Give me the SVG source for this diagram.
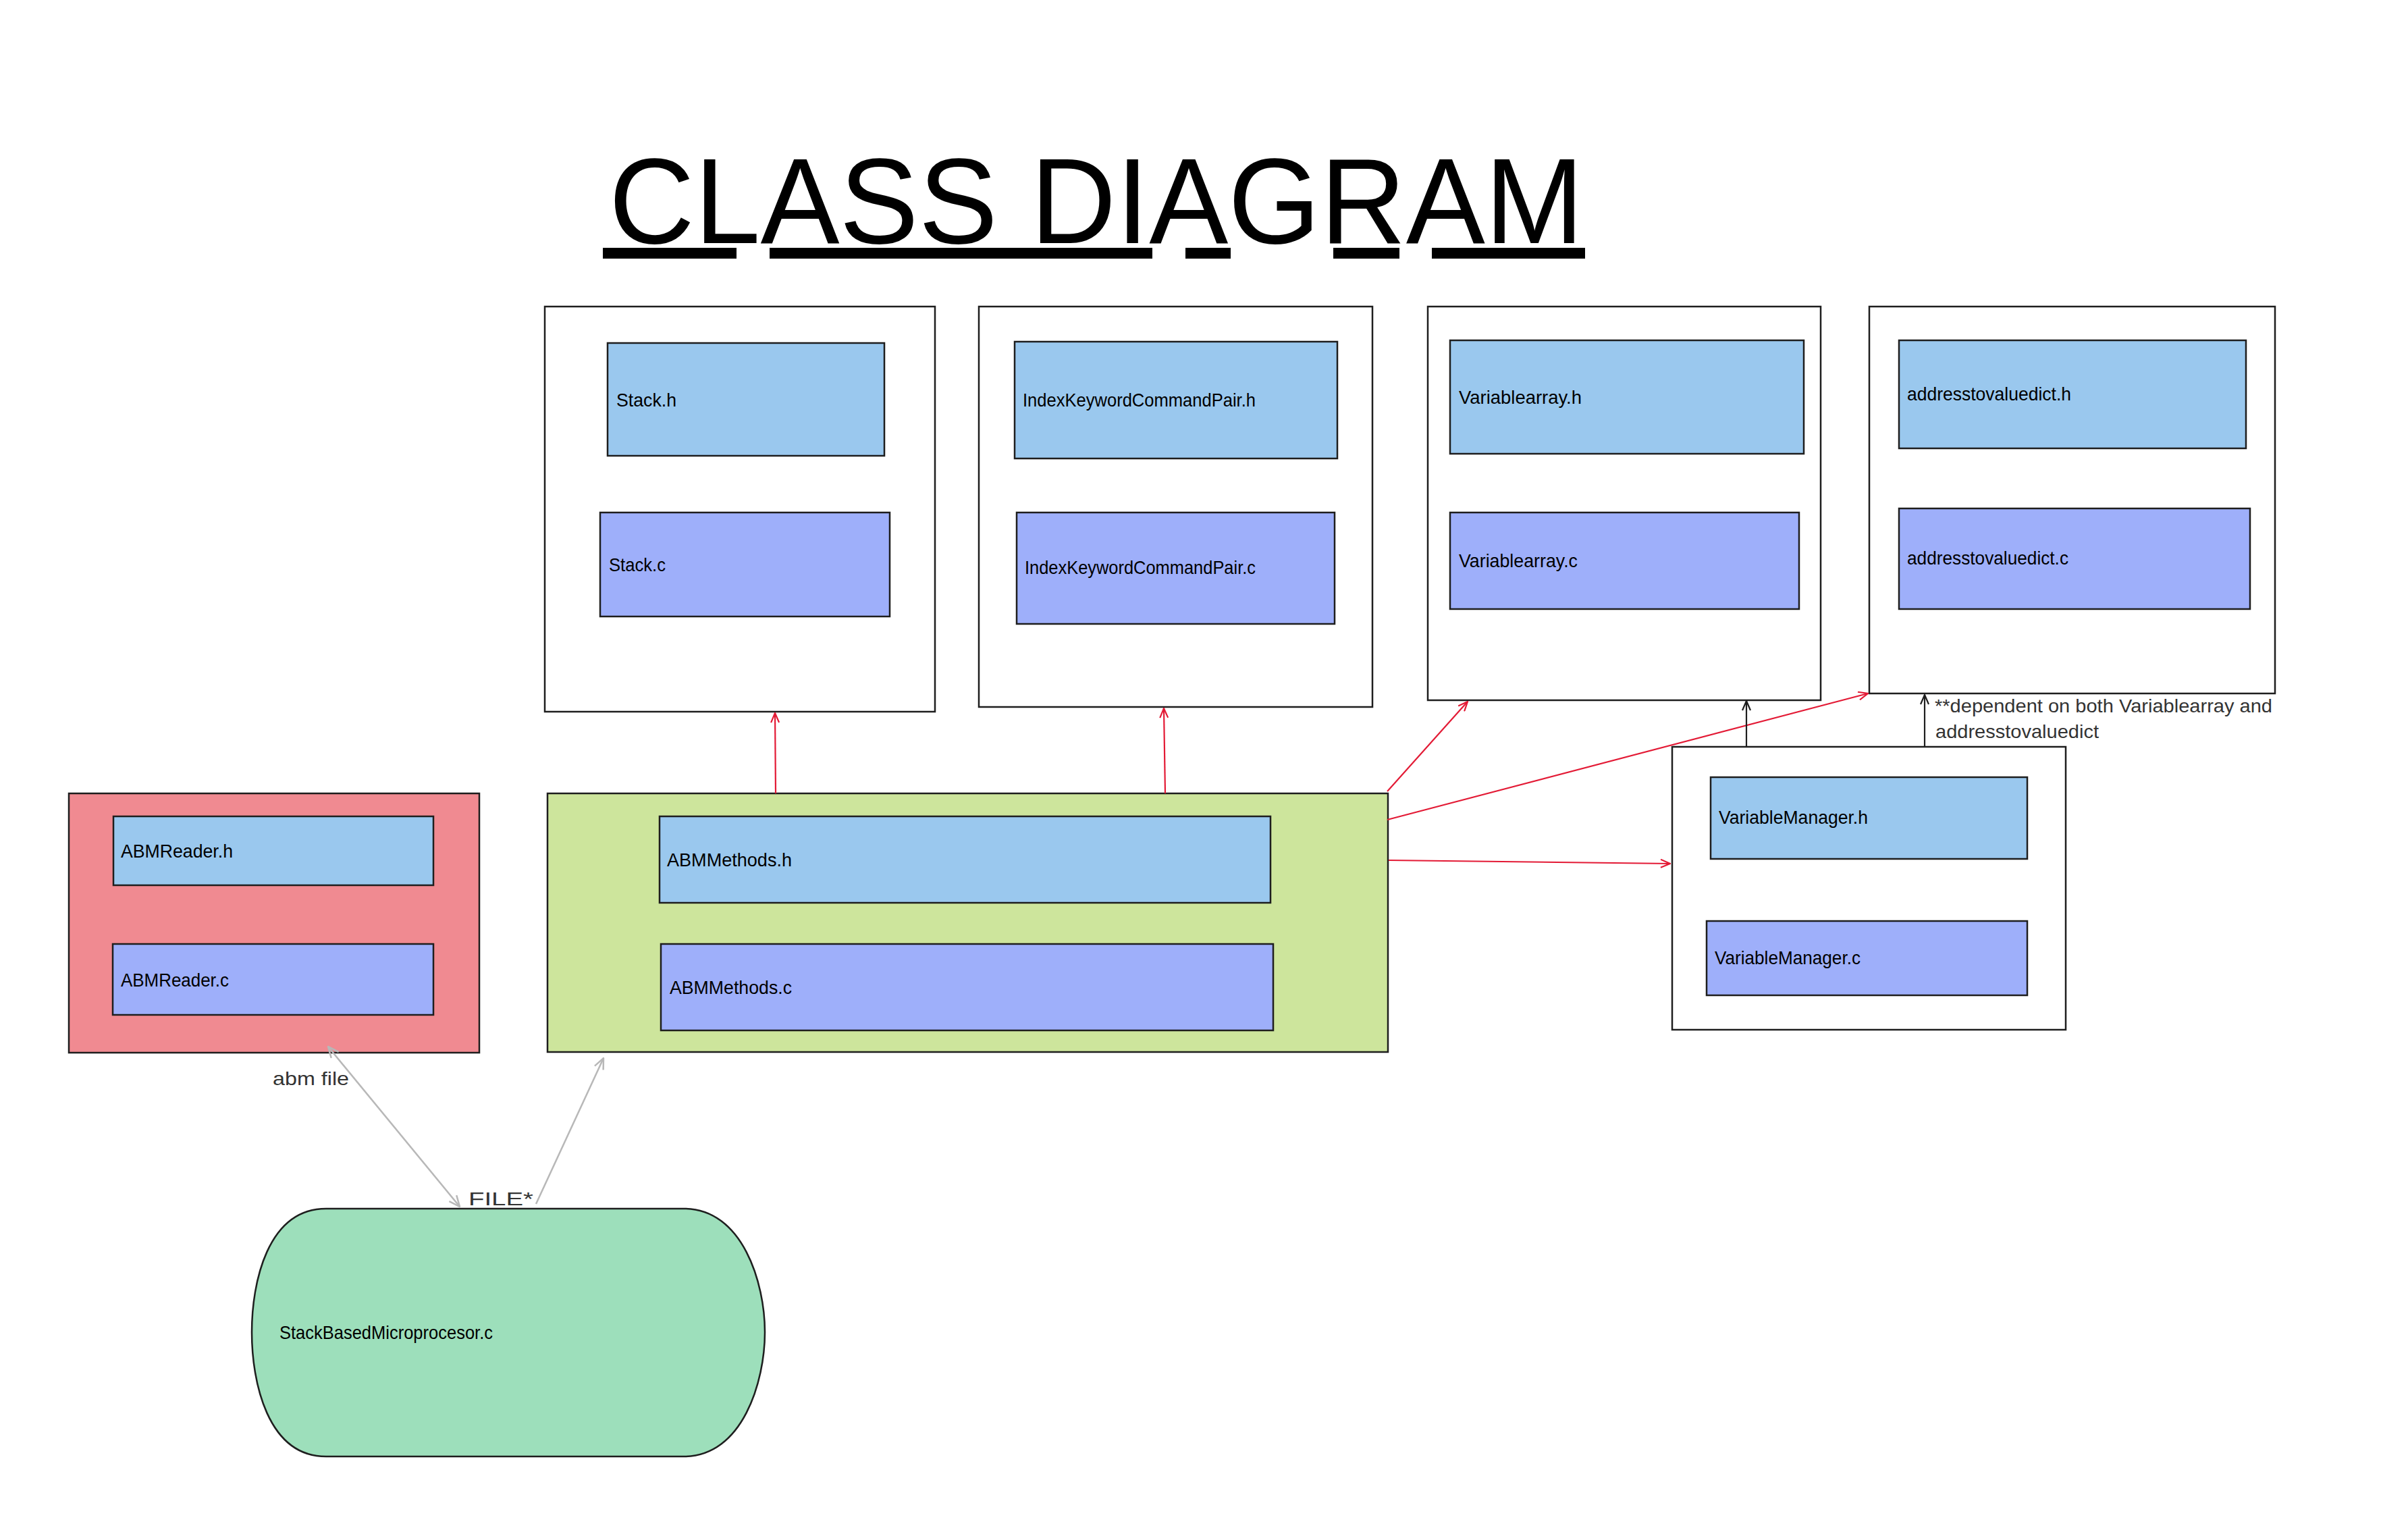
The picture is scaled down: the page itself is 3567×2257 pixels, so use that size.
<svg xmlns="http://www.w3.org/2000/svg" width="3567" height="2257" viewBox="0 0 3567 2257">
<style>
.bg{fill:#ffffff}
.outer{fill:#ffffff;stroke:#1e1e1e;stroke-width:2.5}
.hf{fill:#9ac8ee;stroke:#1e1e1e;stroke-width:2.5}
.cf{fill:#9eaffa;stroke:#1e1e1e;stroke-width:2.5}
.lbl{font-family:"Liberation Sans Narrow","Liberation Sans","DejaVu Sans Condensed",sans-serif;font-size:28px;fill:#000000}
.note{font-family:"Liberation Sans Narrow","Liberation Sans",sans-serif;font-size:28px;fill:#333333}
.red{stroke:#e31a35;stroke-width:2.2;fill:none}
.blk{stroke:#1e1e1e;stroke-width:2.2;fill:none}
.gry{stroke:#b8b8b8;stroke-width:2.5;fill:none}
</style>
<defs>
<marker id="mr" viewBox="0 0 16 14" refX="15" refY="7" markerWidth="16" markerHeight="14" markerUnits="userSpaceOnUse" orient="auto-start-reverse"><path d="M1,1 L15,7 L1,13" fill="none" stroke="#e31a35" stroke-width="2.2"/></marker>
<marker id="mb" viewBox="0 0 16 14" refX="15" refY="7" markerWidth="16" markerHeight="14" markerUnits="userSpaceOnUse" orient="auto-start-reverse"><path d="M1,1 L15,7 L1,13" fill="none" stroke="#1e1e1e" stroke-width="2.2"/></marker>
<marker id="mg" viewBox="0 0 18 16" refX="17" refY="8" markerWidth="18" markerHeight="16" markerUnits="userSpaceOnUse" orient="auto-start-reverse"><path d="M1,1 L17,8 L1,15" fill="none" stroke="#b8b8b8" stroke-width="2.5"/></marker>
</defs>
<rect class="bg" x="0" y="0" width="3567" height="2257"/>

<g id="title">
<text x="902" y="360" font-family="'Liberation Sans Narrow','Liberation Sans',sans-serif" font-size="180" fill="#000" textLength="1444" lengthAdjust="spacingAndGlyphs">CLASS DIAGRAM</text>
<rect x="893" y="367" width="198" height="16" fill="#000"/>
<rect x="1140" y="367" width="567" height="16" fill="#000"/>
<rect x="1756" y="367" width="67" height="16" fill="#000"/>
<rect x="1975" y="367" width="98" height="16" fill="#000"/>
<rect x="2121" y="367" width="227" height="16" fill="#000"/>
</g>

<g id="stack">
<rect class="outer" x="807" y="454" width="578" height="600"/>
<rect class="hf" x="900" y="508" width="410" height="167"/>
<text class="lbl" x="913" y="602" textLength="89" lengthAdjust="spacingAndGlyphs">Stack.h</text>
<rect class="cf" x="889" y="759" width="429" height="154"/>
<text class="lbl" x="902" y="846" textLength="84" lengthAdjust="spacingAndGlyphs">Stack.c</text>
</g>

<g id="ikcp">
<rect class="outer" x="1450" y="454" width="583" height="593"/>
<rect class="hf" x="1503" y="506" width="478" height="173"/>
<text class="lbl" x="1515" y="602" textLength="345" lengthAdjust="spacingAndGlyphs">IndexKeywordCommandPair.h</text>
<rect class="cf" x="1506" y="759" width="471" height="165"/>
<text class="lbl" x="1518" y="850" textLength="342" lengthAdjust="spacingAndGlyphs">IndexKeywordCommandPair.c</text>
</g>

<g id="variablearray">
<rect class="outer" x="2115" y="454" width="582" height="583"/>
<rect class="hf" x="2148" y="504" width="524" height="168"/>
<text class="lbl" x="2161" y="598" textLength="182" lengthAdjust="spacingAndGlyphs">Variablearray.h</text>
<rect class="cf" x="2148" y="759" width="517" height="143"/>
<text class="lbl" x="2161" y="840" textLength="176" lengthAdjust="spacingAndGlyphs">Variablearray.c</text>
</g>

<g id="addresstovaluedict">
<rect class="outer" x="2769" y="454" width="601" height="573"/>
<rect class="hf" x="2813" y="504" width="514" height="160"/>
<text class="lbl" x="2825" y="593" textLength="243" lengthAdjust="spacingAndGlyphs">addresstovaluedict.h</text>
<rect class="cf" x="2813" y="753" width="520" height="149"/>
<text class="lbl" x="2825" y="836" textLength="239" lengthAdjust="spacingAndGlyphs">addresstovaluedict.c</text>
</g>

<g id="abmreader">
<rect x="102" y="1175" width="608" height="384" fill="#f08a91" stroke="#1e1e1e" stroke-width="2.5"/>
<rect class="hf" x="168" y="1209" width="474" height="102"/>
<text class="lbl" x="179" y="1270" textLength="166" lengthAdjust="spacingAndGlyphs">ABMReader.h</text>
<rect class="cf" x="167" y="1398" width="475" height="105"/>
<text class="lbl" x="179" y="1461" textLength="160" lengthAdjust="spacingAndGlyphs">ABMReader.c</text>
</g>

<g id="abmmethods">
<rect x="811" y="1175" width="1245" height="383" fill="#cde59c" stroke="#1e1e1e" stroke-width="2.5"/>
<rect class="hf" x="977" y="1209" width="905" height="128"/>
<text class="lbl" x="988" y="1283" textLength="185" lengthAdjust="spacingAndGlyphs">ABMMethods.h</text>
<rect class="cf" x="979" y="1398" width="907" height="128"/>
<text class="lbl" x="992" y="1472" textLength="181" lengthAdjust="spacingAndGlyphs">ABMMethods.c</text>
</g>

<g id="variablemanager">
<rect class="outer" x="2477" y="1106" width="583" height="419"/>
<rect class="hf" x="2534" y="1151" width="469" height="121"/>
<text class="lbl" x="2546" y="1220" textLength="221" lengthAdjust="spacingAndGlyphs">VariableManager.h</text>
<rect class="cf" x="2528" y="1364" width="475" height="110"/>
<text class="lbl" x="2540" y="1428" textLength="216" lengthAdjust="spacingAndGlyphs">VariableManager.c</text>
</g>

<g id="stackbasedmicroprocesor">
<path d="M483,1790 L1013,1790 C1100,1790 1133,1900 1133,1973 C1133,2046 1100,2157 1013,2157 L483,2157 C396,2157 373,2046 373,1973 C373,1900 396,1790 483,1790 Z" fill="#9ddfbb" stroke="#1e1e1e" stroke-width="2.5"/>
<text class="lbl" x="414" y="1983" textLength="316" lengthAdjust="spacingAndGlyphs">StackBasedMicroprocesor.c</text>
</g>

<g id="connectors">
<line class="red" x1="1149" y1="1175" x2="1148" y2="1056" marker-end="url(#mr)"/>
<line class="red" x1="1726" y1="1175" x2="1724" y2="1049" marker-end="url(#mr)"/>
<line class="red" x1="2055" y1="1172" x2="2174" y2="1039" marker-end="url(#mr)"/>
<line class="red" x1="2055" y1="1214" x2="2767" y2="1027" marker-end="url(#mr)"/>
<line class="red" x1="2057" y1="1274" x2="2474" y2="1279" marker-end="url(#mr)"/>
<line class="blk" x1="2587" y1="1106" x2="2587" y2="1038" marker-end="url(#mb)"/>
<line class="blk" x1="2851" y1="1106" x2="2851" y2="1029" marker-end="url(#mb)"/>
<line class="gry" x1="486" y1="1550" x2="681" y2="1787" marker-start="url(#mg)" marker-end="url(#mg)"/>
<line class="gry" x1="794" y1="1783" x2="894" y2="1567" marker-end="url(#mg)"/>
</g>

<g id="labels">
<text class="note" x="404" y="1607" font-size="32" textLength="113" lengthAdjust="spacingAndGlyphs">abm file</text>
<text class="note" x="694" y="1785" font-size="33" textLength="96" lengthAdjust="spacingAndGlyphs">FILE*</text>
<text class="note" x="2866" y="1055" textLength="500" lengthAdjust="spacingAndGlyphs">**dependent on both Variablearray and</text>
<text class="note" x="2867" y="1093" textLength="242" lengthAdjust="spacingAndGlyphs">addresstovaluedict</text>
</g>
</svg>
